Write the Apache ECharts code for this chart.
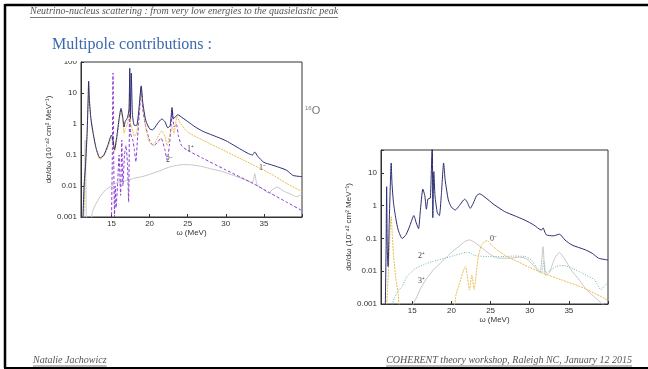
<!DOCTYPE html>
<html>
<head>
<meta charset="utf-8">
<script src="https://cdn.jsdelivr.net/npm/echarts@6/dist/echarts.min.js"></script>
<style>
  html, body { margin: 0; padding: 0; background: #fff; }
  #main { width: 648px; height: 369px; }
</style>
</head>
<body>
<div id="main"></div>
<script>
// omega range and tick marks (MeV)
const xMin = 11, xMax = 40;
const xTicks = [15, 20, 25, 30, 35];

// left panel : total and multipoles 1-, 1+, 2-
const leftTotal = [
  [11.25, 0.0008], [11.4, 0.01], [11.6, 0.05], [11.8, 0.5], [11.95, 8], [12.0, 24], [12.1, 6],
  [12.3, 1.5], [12.6, 0.5], [13.0, 0.16], [13.5, 0.08], [14.0, 0.1], [14.5, 0.2], [15.0, 0.44],
  [15.2, 0.3], [15.4, 0.15], [15.7, 0.4], [16.0, 1.5], [16.25, 3.2], [16.5, 1.5], [16.65, 0.8],
  [16.8, 1.2], [17.1, 1.6], [17.3, 3], [17.4, 63], [17.48, 1.5], [17.6, 44], [17.75, 2],
  [18.0, 0.9], [18.3, 0.9], [18.6, 3], [18.9, 17], [19.1, 5], [19.5, 1.3], [20.0, 0.7],
  [20.4, 0.65], [21.0, 1.0], [21.6, 1.45], [22.0, 1.2], [22.4, 0.75], [22.7, 0.9], [22.95, 3.4],
  [23.1, 1.5], [23.3, 1.6], [23.7, 2.0], [24.0, 1.8], [25.0, 1.2], [26.0, 0.8], [27.0, 0.58],
  [28.0, 0.46], [29.0, 0.37], [30.0, 0.29], [31.0, 0.21], [32.0, 0.15], [33.0, 0.11],
  [33.5, 0.1], [33.8, 0.125], [34.2, 0.09], [35.0, 0.058], [36.0, 0.048], [37.0, 0.04],
  [38.0, 0.032], [38.8, 0.022], [40.0, 0.02]
];
const left1Minus = [
  [11.3, 0.0008], [11.5, 0.01], [11.8, 0.5], [11.95, 8], [12.0, 22], [12.1, 6], [12.3, 1.4],
  [12.6, 0.45], [13.0, 0.15], [13.5, 0.072], [14.0, 0.09], [14.5, 0.17], [15.0, 0.35],
  [15.2, 0.25], [15.4, 0.13], [15.7, 0.3], [16.0, 1.2], [16.25, 2.8], [16.5, 1.2], [16.65, 0.5],
  [16.8, 0.7], [17.1, 1.0], [17.3, 2], [17.4, 8.7], [17.5, 1.0], [17.8, 0.6], [18.0, 0.4],
  [18.3, 0.5], [18.6, 2.5], [18.9, 15], [19.1, 4], [19.5, 0.8], [20.0, 0.25], [20.5, 0.22],
  [21.0, 0.35], [21.6, 0.6], [22.0, 0.4], [22.3, 0.2], [22.7, 0.5], [23.0, 0.8], [23.2, 0.5],
  [23.6, 1.7], [24.0, 1.1], [25.0, 0.55], [27.0, 0.3], [30.0, 0.13], [33.6, 0.048],
  [36.0, 0.024], [38.0, 0.012], [40.0, 0.0066]
];
const left1Plus = [
  [15.0, 0.0008], [15.1, 0.05], [15.2, 44], [15.3, 0.05], [15.4, 0.001], [15.5, 0.01],
  [15.6, 0.002], [15.8, 0.012], [16.0, 0.1], [16.1, 0.02], [16.2, 0.005], [16.35, 0.3],
  [16.5, 0.01], [16.7, 0.1], [16.9, 0.2], [17.1, 0.05], [17.25, 0.003], [17.4, 10], [17.5, 0.5],
  [17.8, 0.3], [18.0, 0.15], [18.2, 0.06], [18.4, 0.3], [18.7, 3], [18.9, 15], [19.1, 3],
  [19.5, 0.8], [20.0, 0.3], [20.5, 0.2], [21.0, 0.25], [21.5, 0.35], [22.0, 0.15], [22.3, 0.07],
  [22.6, 0.2], [23.0, 2.5], [23.2, 0.8], [23.5, 1.0], [23.8, 0.4], [24.2, 0.2], [25.0, 0.14],
  [27.0, 0.078], [30.0, 0.033], [33.6, 0.012], [36.0, 0.0056], [38.0, 0.003], [40.0, 0.0016]
];
const left2Minus = [
  [11.35, 0.0008], [11.45, 0.01], [11.55, 0.3], [11.65, 0.01], [11.75, 0.0008],
  [12.3, 0.0008], [12.5, 0.0015], [12.9, 0.0025], [13.5, 0.0045], [14.2, 0.0074], [15.0, 0.01],
  [15.5, 0.012], [16.5, 0.014], [17.4, 0.016], [18.0, 0.018], [19.0, 0.02], [20.3, 0.025],
  [21.5, 0.032], [22.5, 0.04], [23.5, 0.046], [24.5, 0.049], [25.5, 0.048], [27.0, 0.042],
  [28.0, 0.036], [29.4, 0.03], [31.0, 0.022], [32.5, 0.016], [33.5, 0.013], [33.8, 0.025],
  [34.1, 0.011], [35.0, 0.0075], [35.6, 0.006], [36.2, 0.008], [36.8, 0.0092], [37.5, 0.007],
  [38.5, 0.0055], [39.3, 0.0045], [40.0, 0.0055]
];

// right panel : total and multipoles 0-, 2+, 3+
const rightTotal = [
  [11.55, 0.0008], [11.65, 0.05], [11.72, 3.8], [11.8, 0.05], [11.9, 0.014], [12.05, 0.3],
  [12.2, 5], [12.3, 20], [12.4, 5], [12.6, 1.2], [12.9, 0.4], [13.2, 0.18], [13.7, 0.1],
  [14.2, 0.13], [14.7, 0.25], [15.2, 0.5], [15.5, 0.3], [15.8, 0.2], [16.0, 0.6], [16.35, 3.2],
  [16.6, 2], [16.8, 0.78], [17.0, 1.6], [17.3, 1.7], [17.55, 100], [17.62, 0.43], [17.75, 11],
  [17.9, 2], [18.2, 0.6], [18.45, 0.5], [18.7, 2], [19.0, 20], [19.2, 6], [19.6, 1.5],
  [20.0, 0.9], [20.5, 0.74], [21.0, 1.0], [21.7, 1.58], [22.0, 1.3], [22.4, 0.83], [22.8, 1.2],
  [23.2, 2.0], [23.6, 2.3], [24.3, 1.8], [25.4, 1.1], [26.8, 0.66], [28.0, 0.5], [29.4, 0.36],
  [30.5, 0.26], [31.5, 0.18], [31.7, 0.21], [32.1, 0.13], [33.0, 0.12], [33.8, 0.135],
  [34.5, 0.09], [35.4, 0.063], [37.1, 0.045], [38.0, 0.035], [38.8, 0.025], [40.0, 0.022]
];
const right0Minus = [
  [11.7, 0.0008], [11.85, 0.003], [12.0, 0.02], [12.15, 0.15], [12.3, 0.46], [12.45, 0.12],
  [12.6, 0.03], [12.9, 0.006], [13.2, 0.002], [13.5, 0.0008],
  [20.2, 0.0008], [20.6, 0.002], [21.0, 0.004], [21.5, 0.01], [21.8, 0.014], [22.0, 0.008],
  [22.3, 0.0027], [22.6, 0.0077], [22.9, 0.0028], [23.1, 0.006], [23.4, 0.025], [23.8, 0.06],
  [24.3, 0.082], [24.6, 0.085], [25.2, 0.06], [26.0, 0.042], [27.1, 0.028], [28.5, 0.0195],
  [30.0, 0.013], [32.3, 0.0077], [34.0, 0.0055], [37.0, 0.003], [40.0, 0.0013]
];
const right2Plus = [
  [12.3, 0.0008], [12.7, 0.0015], [13.2, 0.0025], [13.7, 0.0034], [14.3, 0.0068], [15.4, 0.012],
  [16.5, 0.016], [17.5, 0.0196], [19.2, 0.025], [20.5, 0.031], [21.3, 0.035], [22.0, 0.038],
  [22.6, 0.034], [23.0, 0.03], [24.7, 0.028], [26.5, 0.028], [28.0, 0.029], [29.4, 0.028],
  [30.2, 0.022], [30.8, 0.014], [31.5, 0.0087], [31.8, 0.02], [32.1, 0.009], [32.7, 0.011],
  [33.4, 0.014], [34.4, 0.015], [35.5, 0.012], [36.6, 0.009], [38.3, 0.0054], [39.1, 0.0027],
  [39.5, 0.0035], [40.0, 0.0045]
];
const right3Plus = [
  [14.9, 0.0008], [15.5, 0.0015], [16.0, 0.0028], [16.7, 0.0054], [17.7, 0.011], [18.8, 0.0196],
  [19.8, 0.034], [20.9, 0.056], [21.7, 0.08], [22.3, 0.09], [23.0, 0.075], [24.2, 0.045],
  [25.0, 0.032], [26.0, 0.025], [27.5, 0.025], [28.7, 0.027], [29.6, 0.024], [30.5, 0.015],
  [31.3, 0.009], [31.7, 0.056], [32.0, 0.0075], [32.5, 0.009], [33.2, 0.025], [33.8, 0.037],
  [34.4, 0.025], [35.4, 0.01], [36.2, 0.006], [37.1, 0.003], [38.2, 0.0017], [39.3, 0.001],
  [40.0, 0.0007]
];

const navy = '#2b2d73', orange = '#e9bd4e', purple = '#8a3cd6', grey = '#c6c6c6', teal = '#6bb7b2';
const sans = 'Liberation Sans';
const serif = 'Liberation Serif';
const yName = 'dσ/dω (10⁻⁴² cm² MeV⁻¹)';

function measure(text, font) {
  const ctx = document.createElement('canvas').getContext('2d');
  ctx.font = font;
  return ctx.measureText(text).width;
}

function xAxisFor(gi) {
  return {
    type: 'value', gridIndex: gi, min: xMin, max: xMax,
    name: 'ω (MeV)', nameLocation: 'middle', nameGap: gi === 0 ? 10 : 9,
    nameTextStyle: { fontFamily: sans, fontSize: 8, color: '#333' },
    axisLine: { lineStyle: { color: '#333', width: 1 } },
    axisTick: { inside: true, length: 3, lineStyle: { color: '#333' } },
    axisLabel: {
      fontFamily: sans, fontSize: 8, color: '#333', margin: 3,
      formatter: v => (xTicks.indexOf(v) >= 0 ? String(v) : '')
    },
    splitLine: { show: false }
  };
}

function yAxisFor(gi, max) {
  return {
    type: 'log', logBase: 10, gridIndex: gi, min: 0.001, max: max,
    name: yName, nameLocation: 'middle', nameGap: 24, nameRotate: 90,
    nameTextStyle: { fontFamily: sans, fontSize: 8, color: '#333' },
    axisLine: { lineStyle: { color: '#333', width: 1 } },
    axisTick: { inside: true, length: 3, lineStyle: { color: '#333' } },
    axisLabel: {
      fontFamily: sans, fontSize: 8, color: '#333', margin: 4,
      formatter: v => {
        const e = Math.log10(v);
        if (Math.abs(e - Math.round(e)) > 1e-6) return '';
        return String(Number(Math.pow(10, Math.round(e)).toPrecision(1)));
      }
    },
    splitLine: { show: false }
  };
}

function line(gi, data, color, type) {
  return {
    type: 'line', xAxisIndex: gi, yAxisIndex: gi, data: data,
    showSymbol: false, symbol: 'none', clip: true, smooth: 0.2,
    lineStyle: { color: color, width: 1, type: type || 'solid' }
  };
}

const headerText = 'Neutrino-nucleus scattering : from very low energies to the quasielastic peak';
const footLeft = 'Natalie Jachowicz';
const footRight = 'COHERENT theory workshop, Raleigh NC, January 12 2015';
const footFont = 'italic 10px "' + serif + '"';
const headW = measure(headerText, footFont);
const footLW = measure(footLeft, footFont);
const footRW = measure(footRight, footFont);

function label(text, x, y) {
  return { type: 'text', x: x, y: y, z: 50,
    style: { text: text, font: '8px "' + serif + '"', fill: '#444', textVerticalAlign: 'middle' } };
}

const chart = echarts.init(document.getElementById('main'), null, { renderer: 'canvas' });
chart.setOption({
  animation: false,
  backgroundColor: '#fff',
  grid: [
    { left: 81, top: 62, width: 221, height: 155, show: true, borderColor: '#333', borderWidth: 1 },
    { left: 381, top: 150, width: 227, height: 154, show: true, borderColor: '#333', borderWidth: 1 }
  ],
  xAxis: [xAxisFor(0), xAxisFor(1)],
  yAxis: [yAxisFor(0, 100), yAxisFor(1, 50)],
  series: [
    line(0, left2Minus, grey),
    line(0, left1Plus, purple, [3, 2]),
    line(0, left1Minus, orange, [2, 1]),
    line(0, leftTotal, navy),
    line(1, right3Plus, grey),
    line(1, right2Plus, teal, [1, 1.5]),
    line(1, right0Minus, orange, [2, 1]),
    line(1, rightTotal, navy)
  ],
  graphic: [
    // slide frame
    { type: 'line', z: 60, shape: { x1: 5, y1: 5, x2: 648, y2: 5 }, style: { stroke: '#000', lineWidth: 2.5 } },
    { type: 'line', z: 60, shape: { x1: 5, y1: 4, x2: 5, y2: 368 }, style: { stroke: '#000', lineWidth: 2.5 } },
    { type: 'line', z: 60, shape: { x1: 4, y1: 368, x2: 648, y2: 368 }, style: { stroke: '#000', lineWidth: 2 } },
    // header
    { type: 'text', x: 30, y: 16, z: 60,
      style: { text: headerText, font: footFont, fill: '#555', textVerticalAlign: 'bottom' } },
    { type: 'line', z: 60, shape: { x1: 30, y1: 17.5, x2: 30 + headW, y2: 17.5 }, style: { stroke: '#555', lineWidth: 0.8 } },
    { type: 'text', x: 52, y: 53, z: 60,
      style: { text: 'Multipole contributions :', font: '16px "' + serif + '"', fill: '#3b6aaf', textVerticalAlign: 'bottom' } },
    // crop of the left picture over its top label
    { type: 'rect', z: 40, shape: { x: 55, y: 54, width: 24, height: 7 }, style: { fill: '#fff' } },
    // nucleus
    { type: 'text', x: 305, y: 111, z: 60,
      style: {
        text: '{s|16}{b|O}', fill: '#777', textVerticalAlign: 'middle',
        rich: {
          s: { fontFamily: sans, fontSize: 6, fill: '#777', verticalAlign: 'top', padding: [0, 0, 5, 0] },
          b: { fontFamily: sans, fontSize: 11, fill: '#777' }
        }
      } },
    // multipole labels
    label('2⁻', 166, 160),
    label('1⁺', 187, 149),
    label('1⁻', 259, 168),
    label('2⁺', 418, 256),
    label('3⁺', 418, 281),
    label('0⁻', 490, 239),
    // footer
    { type: 'text', x: 33, y: 365, z: 60,
      style: { text: footLeft, font: footFont, fill: '#555', textVerticalAlign: 'bottom' } },
    { type: 'line', z: 60, shape: { x1: 33, y1: 366, x2: 33 + footLW, y2: 366 }, style: { stroke: '#555', lineWidth: 0.8 } },
    { type: 'text', x: 632, y: 365, z: 60,
      style: { text: footRight, font: footFont, fill: '#555', textAlign: 'right', textVerticalAlign: 'bottom' } },
    { type: 'line', z: 60, shape: { x1: 632 - footRW, y1: 366, x2: 632, y2: 366 }, style: { stroke: '#555', lineWidth: 0.8 } }
  ]
});
</script>
</body>
</html>
